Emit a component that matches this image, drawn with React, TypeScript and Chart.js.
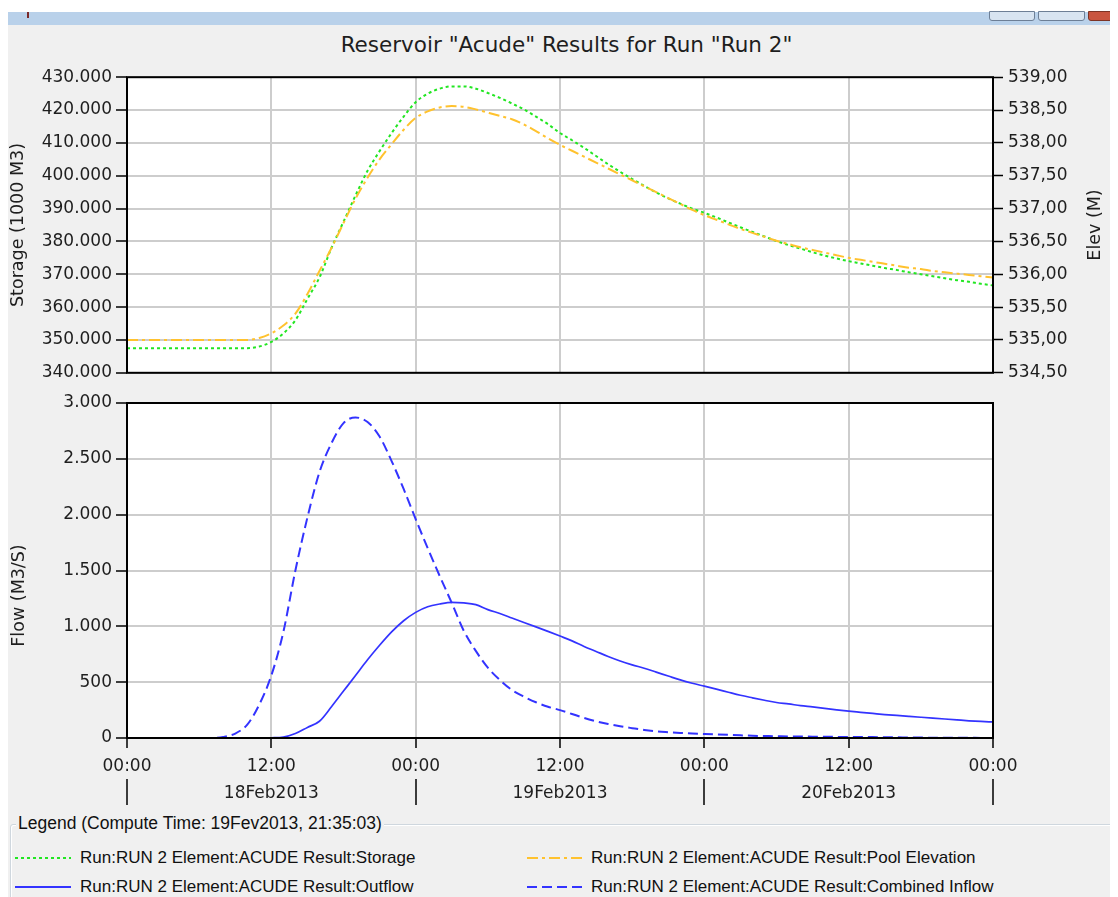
import React, { useEffect, useRef } from 'react';
import { Chart, registerables } from 'chart.js';

Chart.register(...registerables);

// ---------------- DATA ----------------
const HOURS = [
  0, 1, 2, 3, 4, 5, 6, 7, 8, 9, 10, 11, 12, 13, 14, 15, 16, 17, 18, 19, 20, 21, 22, 23, 24,
  25, 26, 27, 28, 29, 30, 31, 32, 33, 34, 35, 36, 37, 38, 39, 40, 41, 42, 43, 44, 45, 46, 47, 48,
  49, 50, 51, 52, 53, 54, 55, 56, 57, 58, 59, 60, 61, 62, 63, 64, 65, 66, 67, 68, 69, 70, 71, 72,
];

// Storage (1000 M3)
const STORAGE = [
  347500, 347500, 347500, 347500, 347500, 347500, 347500, 347500, 347500, 347500, 347500,
  348000, 349400, 352000, 356000, 362500, 369000, 378000, 386000, 394000, 401500, 407500,
  413000, 418000, 422400, 425000, 426500, 427200, 427200, 426500, 425200, 423700, 422000,
  420200, 418000, 415700, 413000, 410800, 408500, 406000, 403500, 401200, 399000, 396900,
  394900, 393100, 391500, 390000, 388700, 387300, 385800, 384300, 382900, 381500, 380100,
  378900, 377800, 376700, 375700, 374800, 374000, 373300, 372600, 371900, 371300, 370600,
  370000, 369400, 368800, 368200, 367700, 367100, 366600,
];

// Pool Elevation (M)
const POOL_ELEV = [
  535.0, 535.0, 535.0, 535.0, 535.0, 535.0, 535.0, 535.0, 535.0, 535.0, 535.0,
  535.03, 535.1, 535.22, 535.4, 535.7, 536.05, 536.4, 536.78, 537.15, 537.47, 537.75,
  537.98, 538.2, 538.38, 538.48, 538.54, 538.56, 538.55, 538.51, 538.46, 538.41, 538.36,
  538.28, 538.18, 538.07, 537.97, 537.88, 537.79, 537.7, 537.61, 537.52, 537.43, 537.34,
  537.25, 537.16, 537.07, 536.98, 536.9, 536.83, 536.76, 536.69, 536.63, 536.57, 536.51,
  536.46, 536.41, 536.37, 536.33, 536.29, 536.25, 536.22, 536.19, 536.16, 536.13, 536.1,
  536.08, 536.05, 536.03, 536.01, 535.99, 535.97, 535.95,
];

// Outflow (M3/S)
const OUTFLOW = [
  0, 0, 0, 0, 0, 0, 0, 0, 0, 0, 0, 0, 2, 8, 40, 95, 150, 280, 420, 560, 700, 830, 950, 1050,
  1125, 1175, 1200, 1215, 1210, 1195, 1150, 1115, 1075, 1035, 995, 955, 913, 870, 820, 775,
  730, 690, 655, 625, 590, 555, 520, 490, 464, 438, 410, 383, 360, 338, 318, 305, 290, 278,
  265, 252, 240, 230, 220, 210, 202, 194, 186, 178, 170, 162, 154, 148, 144,
];

// Combined Inflow (M3/S)
const INFLOW = [
  0, 0, 0, 0, 0, 0, 0, 0, 10, 40, 120, 300, 560, 950, 1500, 1975, 2380, 2640, 2820, 2870,
  2830, 2700, 2480, 2230, 1960, 1700, 1450, 1210, 960, 780, 630, 520, 430, 370, 320, 280,
  250, 215, 180, 150, 125, 105, 88, 72, 60, 52, 45, 40, 36, 32, 28, 24, 20, 18, 16, 14, 13,
  12, 11, 10, 10, 9, 8, 7, 6, 5, 4, 3, 3, 2, 2, 1, 1,
];

const X_STEP = 12;
const DAY_BOUNDS = [0, 24, 48, 72];
const DAY_CENTERS = [12, 36, 60];
const DAY_LABELS = ['18Feb2013', '19Feb2013', '20Feb2013'];

const TITLE = 'Reservoir "Acude" Results for Run "Run 2"';
const LEGEND_TITLE = 'Legend (Compute Time: 19Fev2013, 21:35:03)';
const NAME_STORAGE = 'Run:RUN 2 Element:ACUDE Result:Storage';
const NAME_POOL = 'Run:RUN 2 Element:ACUDE Result:Pool Elevation';
const NAME_OUTFLOW = 'Run:RUN 2 Element:ACUDE Result:Outflow';
const NAME_INFLOW = 'Run:RUN 2 Element:ACUDE Result:Combined Inflow';

// ---------------- STYLE ----------------
const GREEN = '#22e622';
const ORANGE = '#ffc22e';
const BLUE = '#3333ff';
const GRID = '#cdcdcd';
const TEXT = '#1e1e1e';
const FONT_FAMILY = '"DejaVu Sans", sans-serif';
const TICK_FONT = { family: FONT_FAMILY, size: 17 };
const DASH_STORAGE = [3, 3];
const DASH_POOL = [11, 4, 3, 4];
const DASH_INFLOW = [10, 5];

const fmtThousands = (v: number) =>
  Math.round(v).toString().replace(/\B(?=(\d{3})+(?!\d))/g, '.');
const fmtElev = (v: number) => Number(v).toFixed(2).replace('.', ',');
const fmtHour = (v: number) => `${String(v % 24).padStart(2, '0')}:00`;

const pts = (ys: number[]) => HOURS.map((h, i) => ({ x: h, y: ys[i] }));

const plotBgPlugin = {
  id: 'plotBg',
  beforeDraw(chart: any) {
    const { ctx, chartArea } = chart;
    const { left, top, right, bottom } = chartArea;
    ctx.save();
    ctx.fillStyle = '#ffffff';
    ctx.fillRect(left, top, right - left, bottom - top);
    ctx.restore();
  },
};

const framePlugin = {
  id: 'frame',
  afterDraw(chart: any) {
    const { ctx, chartArea } = chart;
    const { left, top, right, bottom } = chartArea;
    ctx.save();
    ctx.strokeStyle = '#000';
    ctx.lineWidth = 2;
    ctx.strokeRect(left, top, right - left, bottom - top);
    ctx.restore();
  },
};

const makeVTitle = (id: string, text: string, xFn: (ca: any) => number, yOffset: number) => ({
  id,
  afterDraw(chart: any) {
    const { ctx, chartArea } = chart;
    ctx.save();
    ctx.translate(xFn(chartArea), (chartArea.top + chartArea.bottom) / 2 + yOffset);
    ctx.rotate(-Math.PI / 2);
    ctx.fillStyle = TEXT;
    ctx.font = `17.5px ${FONT_FAMILY}`;
    ctx.textAlign = 'center';
    ctx.textBaseline = 'middle';
    ctx.fillText(text, 0, 0);
    ctx.restore();
  },
});

const datesPlugin = {
  id: 'dates',
  afterDraw(chart: any) {
    const xs = chart.scales.x;
    const { ctx, chartArea } = chart;
    ctx.save();
    ctx.strokeStyle = '#000';
    ctx.lineWidth = 1.5;
    DAY_BOUNDS.forEach((v) => {
      const px = Math.round(xs.getPixelForValue(v));
      ctx.beginPath();
      ctx.moveTo(px, chartArea.bottom + 41);
      ctx.lineTo(px, chartArea.bottom + 67);
      ctx.stroke();
    });
    ctx.fillStyle = TEXT;
    ctx.font = `17px ${FONT_FAMILY}`;
    ctx.textAlign = 'center';
    ctx.textBaseline = 'middle';
    DAY_CENTERS.forEach((v, i) => {
      ctx.fillText(DAY_LABELS[i], xs.getPixelForValue(v), chartArea.bottom + 56);
    });
    ctx.restore();
  },
};

const lineDs = (label: string, data: any[], color: string, dash: number[], width: number, axis: string) => ({
  label,
  data,
  yAxisID: axis,
  borderColor: color,
  backgroundColor: color,
  borderWidth: width,
  borderDash: dash,
  pointRadius: 0,
  fill: false,
  cubicInterpolationMode: 'monotone' as const,
});

function TopChart() {
  const ref = useRef<HTMLCanvasElement>(null);
  useEffect(() => {
    const chart = new Chart(ref.current as HTMLCanvasElement, {
      type: 'line',
      data: {
        datasets: [
          lineDs(NAME_POOL, pts(POOL_ELEV), ORANGE, DASH_POOL, 2, 'y2'),
          lineDs(NAME_STORAGE, pts(STORAGE), GREEN, DASH_STORAGE, 2, 'y'),
        ],
      },
      options: {
        animation: false,
        responsive: false,
        maintainAspectRatio: false,
        layout: { padding: { top: 15, left: 0, right: 0, bottom: 0 } },
        plugins: { legend: { display: false }, tooltip: { enabled: false } },
        scales: {
          x: {
            type: 'linear',
            min: 0,
            max: 72,
            ticks: { display: false, stepSize: X_STEP },
            grid: { color: GRID, lineWidth: 2, drawTicks: false },
            border: { display: false },
            afterFit: (s: any) => { s.height = 11; },
          },
          y: {
            type: 'linear',
            position: 'left',
            min: 340000,
            max: 430000,
            ticks: { stepSize: 10000, padding: 4, color: TEXT, font: TICK_FONT, callback: (v: any) => fmtThousands(v) },
            grid: { color: GRID, lineWidth: 2, tickColor: '#000', tickLength: 11, tickWidth: 1.5 },
            border: { display: false },
            title: { display: true, text: 'Storage (1000 M3)', padding: 0, color: TEXT, font: { family: FONT_FAMILY, size: 17.5 } },
            afterFit: (s: any) => { s.width = 119; },
          },
          y2: {
            type: 'linear',
            position: 'right',
            min: 534.5,
            max: 539,
            ticks: { stepSize: 0.5, padding: 5, color: TEXT, font: TICK_FONT, callback: (v: any) => fmtElev(v) },
            grid: { drawOnChartArea: false, tickColor: '#000', tickLength: 10, tickWidth: 1.5 },
            border: { display: false },
            afterFit: (s: any) => { s.width = 125; },
          },
        },
      } as any,
      plugins: [plotBgPlugin, framePlugin, makeVTitle('elevTitle', 'Elev (M)', (ca) => ca.right + 102, 0)],
    });
    return () => chart.destroy();
  }, []);
  return (
    <canvas
      ref={ref}
      width={1110}
      height={326}
      style={{ position: 'absolute', left: 0, top: 54, width: 1110, height: 326 }}
    />
  );
}

function BottomChart() {
  const ref = useRef<HTMLCanvasElement>(null);
  useEffect(() => {
    const chart = new Chart(ref.current as HTMLCanvasElement, {
      type: 'line',
      data: {
        datasets: [
          lineDs(NAME_INFLOW, pts(INFLOW), BLUE, DASH_INFLOW, 2, 'y'),
          lineDs(NAME_OUTFLOW, pts(OUTFLOW), BLUE, [], 1.7, 'y'),
        ],
      },
      options: {
        animation: false,
        responsive: false,
        maintainAspectRatio: false,
        layout: { padding: { top: 17, left: 0, right: 125, bottom: 0 } },
        plugins: { legend: { display: false }, tooltip: { enabled: false } },
        scales: {
          x: {
            type: 'linear',
            min: 0,
            max: 72,
            ticks: { stepSize: X_STEP, padding: 8, color: TEXT, font: TICK_FONT, maxRotation: 0, callback: (v: any) => fmtHour(v) },
            grid: { color: GRID, lineWidth: 2, tickColor: '#000', tickLength: 10, tickWidth: 1.5 },
            border: { display: false },
            afterFit: (s: any) => { s.height = 68; },
          },
          y: {
            type: 'linear',
            position: 'left',
            min: 0,
            max: 3000,
            ticks: { stepSize: 500, padding: 4, color: TEXT, font: TICK_FONT, callback: (v: any) => fmtThousands(v) },
            grid: { color: GRID, lineWidth: 2, tickColor: '#000', tickLength: 11, tickWidth: 1.5 },
            border: { display: false },
            afterFit: (s: any) => { s.width = 119; },
          },
        },
      } as any,
      plugins: [plotBgPlugin, framePlugin, datesPlugin, makeVTitle('flowTitle', 'Flow (M3/S)', () => 11.5, 25)],
    });
    return () => chart.destroy();
  }, []);
  return (
    <canvas
      ref={ref}
      width={1110}
      height={420}
      style={{ position: 'absolute', left: 0, top: 378, width: 1110, height: 420 }}
    />
  );
}

function Sample({ color, dash, width }: { color: string; dash: number[]; width: number }) {
  return (
    <svg width={56} height={6} style={{ display: 'block' }}>
      <line x1={0} y1={3} x2={56} y2={3} stroke={color} strokeWidth={width} strokeDasharray={dash.length ? dash.join(' ') : undefined} />
    </svg>
  );
}

const legendText: React.CSSProperties = {
  position: 'absolute',
  fontFamily: '"Liberation Sans", Arial, sans-serif',
  fontSize: 17,
  color: '#111',
  lineHeight: '20px',
  height: 20,
  whiteSpace: 'nowrap',
};

function Legend() {
  const rows = [
    { y: 850, lx: 7, tx: 72, name: NAME_STORAGE, color: GREEN, dash: DASH_STORAGE, w: 2 },
    { y: 850, lx: 519, tx: 583, name: NAME_POOL, color: ORANGE, dash: DASH_POOL, w: 2 },
    { y: 879, lx: 7, tx: 72, name: NAME_OUTFLOW, color: BLUE, dash: [], w: 2 },
    { y: 879, lx: 519, tx: 583, name: NAME_INFLOW, color: BLUE, dash: DASH_INFLOW, w: 2 },
  ];
  return (
    <>
      <div
        style={{
          position: 'absolute',
          left: 2,
          top: 816,
          width: 1104,
          height: 90,
          border: '1px solid #cfd7de',
          boxShadow: 'inset 1px 1px 0 #ffffff',
          borderRadius: 3,
        }}
      />
      <div style={{ ...legendText, left: 8, top: 805, fontSize: 17.5, background: '#f0f0f0', padding: '0 2px' }}>
        {LEGEND_TITLE}
      </div>
      {rows.map((r, i) => (
        <React.Fragment key={i}>
          <div style={{ position: 'absolute', left: r.lx, top: r.y - 3 }}>
            <Sample color={r.color} dash={r.dash} width={r.w} />
          </div>
          <div style={{ ...legendText, left: r.tx, top: r.y - 10 }}>{r.name}</div>
        </React.Fragment>
      ))}
    </>
  );
}

export default function App() {
  return (
    <div style={{ position: 'relative', width: 1110, height: 889, background: '#ffffff', overflow: 'hidden' }}>
      {/* window frame */}
      <div style={{ position: 'absolute', left: 0, top: 4, width: 1110, height: 13, background: '#b9d1ea' }} />
      <div style={{ position: 'absolute', left: 19, top: 4, width: 2, height: 6, background: '#7a2a2a' }} />
      <div style={{ position: 'absolute', left: 981, top: 3, width: 44, height: 8, background: '#d8e4f1', border: '1px solid #6d7f96', borderRadius: '0 0 3px 3px' }} />
      <div style={{ position: 'absolute', left: 1030, top: 3, width: 45, height: 8, background: '#d8e4f1', border: '1px solid #6d7f96', borderRadius: '0 0 3px 3px' }} />
      <div style={{ position: 'absolute', left: 1080, top: 3, width: 32, height: 8, background: '#c9553f', border: '1px solid #7d3325', borderRadius: '0 0 3px 3px' }} />
      <div style={{ position: 'absolute', left: 0, top: 17, width: 1110, height: 872, background: '#f0f0f0' }} />
      {/* title */}
      <div
        style={{
          position: 'absolute',
          left: 0,
          width: 1117,
          top: 25,
          height: 24,
          lineHeight: '24px',
          textAlign: 'center',
          fontFamily: FONT_FAMILY,
          fontSize: 21.5,
          color: TEXT,
          whiteSpace: 'nowrap',
        }}
      >
        {TITLE}
      </div>
      <TopChart />
      <BottomChart />
      <Legend />
    </div>
  );
}
